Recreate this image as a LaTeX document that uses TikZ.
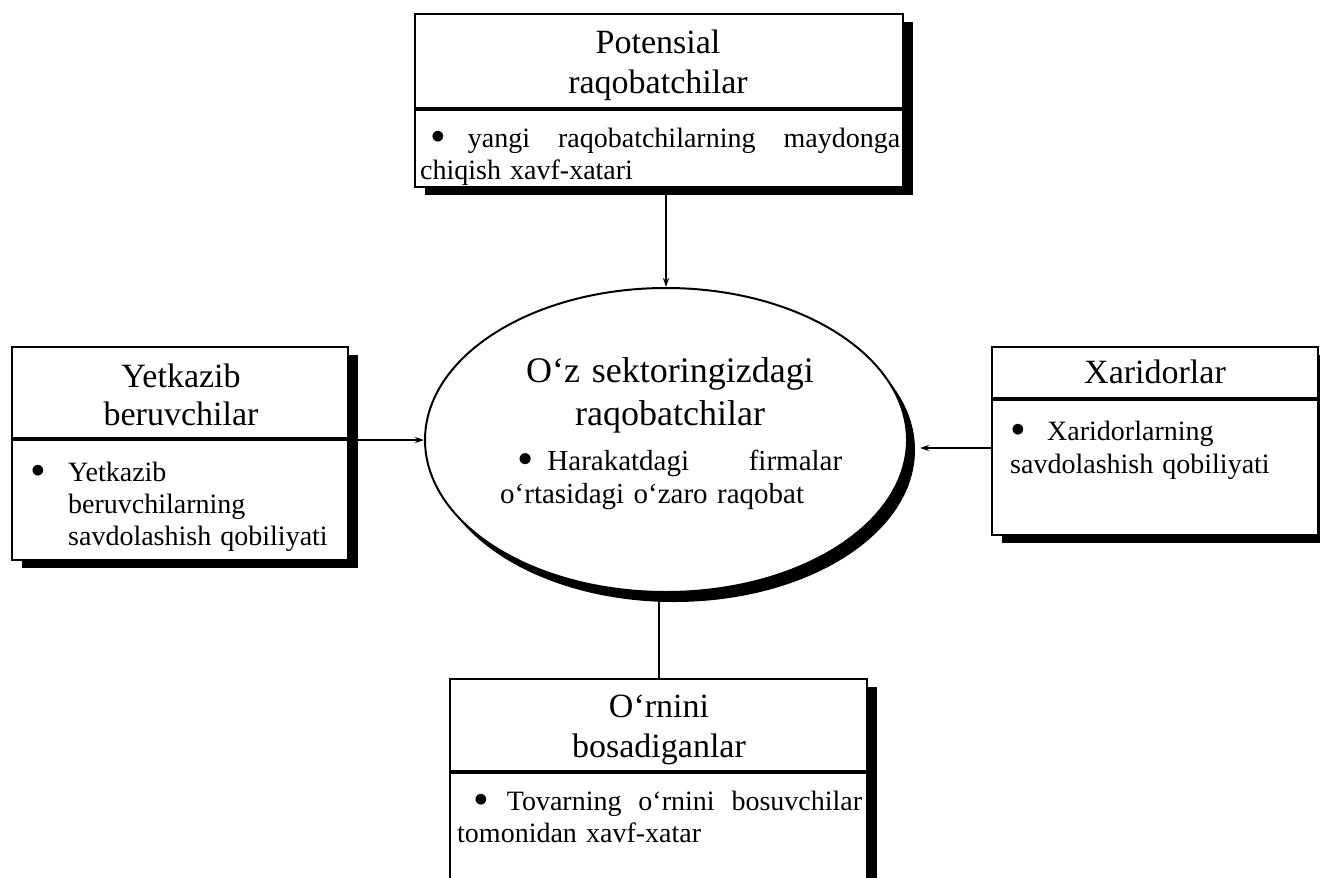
\documentclass[tikz,border=0pt]{standalone}
\usepackage{fontspec}
\usepackage{graphicx}
\setmainfont{Liberation Serif}[WordSpace=1.3]
\usetikzlibrary{shapes.geometric,shadows,arrows.meta}

% font sizes for headings and bullet texts
\newcommand\hdfont{\fontsize{34}{40}\selectfont}
\newcommand\txfont{\fontsize{28}{32}\selectfont}
% a larger list bullet that does not change the line height
\newcommand\blt{\smash{\raisebox{-4pt}{\scalebox{1.6}{\textbullet}}}}

\tikzset{
  panel/.style={draw, line width=2.4pt, fill=white, inner sep=0pt,
    drop shadow={shadow xshift=10pt, shadow yshift=-8pt, fill=black, opacity=1}},
  oval/.style={ellipse, draw, line width=2pt, fill=white, inner sep=0pt,
    minimum width=482pt, minimum height=304pt,
    drop shadow={shadow xshift=8pt, shadow yshift=-10pt, fill=black, opacity=1}},
  divider/.style={line width=3.6pt},
  link/.style={line width=1.4pt},
  feed/.style={link, -{Stealth[length=9pt,width=6pt]}},
  txt/.style={anchor=base west, inner sep=0pt},
  ttl/.style={anchor=base, inner sep=0pt},
}

\begin{document}
\begin{tikzpicture}[x=1pt, y=-1pt]
  \useasboundingbox[fill=white] (0,0) rectangle (1320,878);

  % central ellipse and the four surrounding panels
  \node[oval] (ell) at (666,440) {};
  \node[panel, minimum width=488pt, minimum height=173pt] (top) at (659,100.5) {};
  \node[panel, minimum width=336pt, minimum height=213pt] (left) at (180,453.5) {};
  \node[panel, minimum width=326pt, minimum height=188pt] (right) at (1155,441) {};
  \node[panel, minimum width=417pt, minimum height=226pt] (bot) at (658.5,792) {};

  % heading/body separators
  \draw[divider] ([yshift=-96pt]top.north west) -- ([yshift=-96pt]top.north east);
  \draw[divider] ([yshift=-93pt]left.north west) -- ([yshift=-93pt]left.north east);
  \draw[divider] ([yshift=-53pt]right.north west) -- ([yshift=-53pt]right.north east);
  \draw[divider] ([yshift=-94pt]bot.north west) -- ([yshift=-94pt]bot.north east);

  % connectors
  \draw[feed] (ell.north |- top.south) -- (ell.north);
  \draw[feed] (left.east |- ell.west) -- (ell.west);
  \draw[feed, shorten >=12pt] ([yshift=-8pt]right.west |- ell.east) -- ([yshift=-8pt]ell.east);
  \draw[line width=2pt] (bot.north) -- (bot.north |- ell.south);

  % headings
  \node[ttl] (topT) at (658,53) {\parbox[t]{460pt}{\centering\hdfont Potensial\\raqobatchilar}};
  \node[ttl] (leftT) at (181,387) {\parbox[t]{320pt}{\centering\fontsize{34}{38}\selectfont Yetkazib\\beruvchilar}};
  \node[ttl] (rightT) at (1155,383) {\parbox[t]{300pt}{\centering\hdfont Xaridorlar}};
  \node[ttl] (ellT) at (670,382) {\parbox[t]{420pt}{\centering\fontsize{36}{43}\selectfont O‘z sektoringizdagi\\raqobatchilar}};
  \node[ttl] (botT) at (659,717) {\parbox[t]{400pt}{\centering\hdfont O‘rnini\\bosadiganlar}};

  % bullet texts
  \node[txt] (topB) at (420,147) {\parbox[t]{480pt}{\fontsize{28}{32}\selectfont
    \makebox[480pt][s]{\hspace*{10pt}\blt\hspace{22pt}yangi raqobatchilarning maydonga}\\
    chiqish xavf-xatari}};
  \node[txt] (leftB) at (30,481) {\parbox[t]{320pt}{\txfont
    \makebox[38pt][l]{\blt}Yetkazib\\
    \hspace*{38pt}beruvchilarning\\
    \hspace*{38pt}savdolashish qobiliyati}};
  \node[txt] (rightB) at (1010,440) {\parbox[t]{305pt}{\fontsize{28}{33}\selectfont
    \makebox[37pt][l]{\blt}Xaridorlarning\\savdolashish qobiliyati}};
  \node[txt] (ellB) at (500,470) {\parbox[t]{342pt}{\fontsize{29}{33}\selectfont
    \hspace*{17pt}\blt\hspace{14pt}Harakatdagi\hfill firmalar\\
    o‘rtasidagi o‘zaro raqobat}};
  \node[txt] (botB) at (457,810) {\parbox[t]{405pt}{\fontsize{28}{32}\selectfont
    \makebox[405pt][s]{\hspace*{16pt}\blt\hspace{18pt}Tovarning o‘rnini bosuvchilar}\\
    tomonidan xavf-xatar}};
\end{tikzpicture}
\end{document}
